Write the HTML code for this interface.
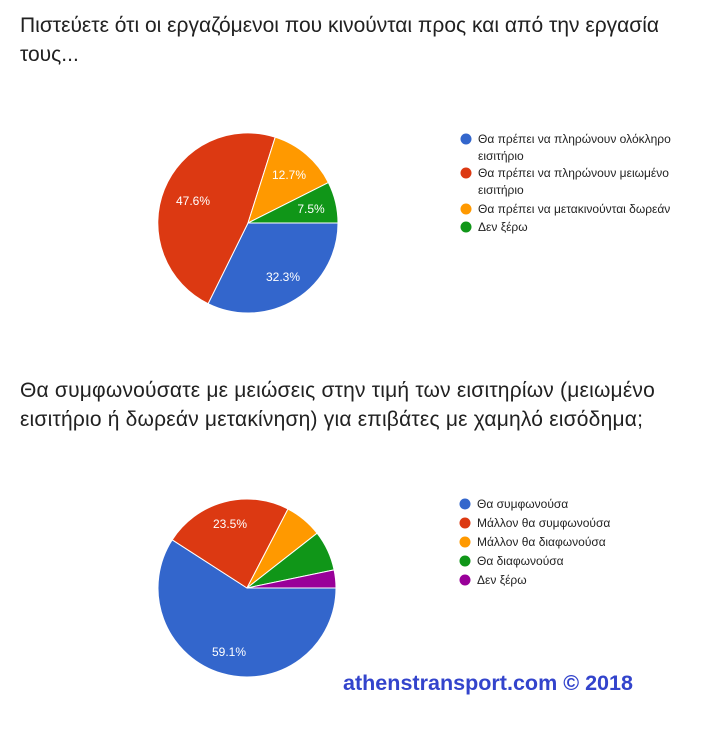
<!DOCTYPE html>
<html><head><meta charset="utf-8"><style>
html,body{margin:0;padding:0;background:#fff;}
body{width:703px;height:735px;position:relative;overflow:hidden;font-family:"Liberation Sans","DejaVu Sans",sans-serif;}
.t{position:absolute;left:20px;font-size:21px;letter-spacing:0.2px;color:#212121;line-height:29px;white-space:nowrap;}
svg{position:absolute;left:0;top:0;}
</style></head><body>
<div class="t" style="top:11px;letter-spacing:0">Πιστεύετε ότι οι εργαζόμενοι που κινούνται προς και από την εργασία<br>τους...</div>
<div class="t" style="top:376px">Θα συμφωνούσατε με μειώσεις στην τιμή των εισιτηρίων (μειωμένο<br>εισιτήριο ή δωρεάν μετακίνηση) για επιβάτες με χαμηλό εισόδημα;</div>
<svg width="703" height="735" xmlns="http://www.w3.org/2000/svg" font-family="Liberation Sans, sans-serif">
<g stroke="#fff" stroke-width="1">
<path d="M248,223 L338,223 A90,90 0 0 1 208.1,303.7 Z" fill="#3366cc"/>
<path d="M248,223 L208.1,303.7 A90,90 0 0 1 275.2,137.2 Z" fill="#dc3912"/>
<path d="M248,223 L275.2,137.2 A90,90 0 0 1 328.4,182.6 Z" fill="#ff9900"/>
<path d="M248,223 L328.4,182.6 A90,90 0 0 1 338,223 Z" fill="#109618"/>
<path d="M247,588 L336,588 A89,89 0 1 1 172.2,539.8 Z" fill="#3366cc"/>
<path d="M247,588 L172.2,539.8 A89,89 0 0 1 288,509 Z" fill="#dc3912"/>
<path d="M247,588 L288,509 A89,89 0 0 1 317.1,533.2 Z" fill="#ff9900"/>
<path d="M247,588 L317.1,533.2 A89,89 0 0 1 334.1,569.9 Z" fill="#109618"/>
<path d="M247,588 L334.1,569.9 A89,89 0 0 1 336,588 Z" fill="#990099"/>
</g>
<g fill="#fff" font-size="12" text-anchor="middle">
<text x="283" y="281">32.3%</text>
<text x="193" y="205">47.6%</text>
<text x="289" y="179">12.7%</text>
<text x="311" y="213">7.5%</text>
<text x="230" y="528">23.5%</text>
<text x="229" y="656">59.1%</text>
</g>
<g font-size="12" fill="#222">
<circle cx="466" cy="139" r="5.5" fill="#3366cc"/><text x="478" y="143">Θα πρέπει να πληρώνουν ολόκληρο</text><text x="478" y="160">εισιτήριο</text>
<circle cx="466" cy="173" r="5.5" fill="#dc3912"/><text x="478" y="177">Θα πρέπει να πληρώνουν μειωμένο</text><text x="478" y="194">εισιτήριο</text>
<circle cx="466" cy="209" r="5.5" fill="#ff9900"/><text x="478" y="213">Θα πρέπει να μετακινούνται δωρεάν</text>
<circle cx="466" cy="227" r="5.5" fill="#109618"/><text x="478" y="231">Δεν ξέρω</text>
<circle cx="465" cy="504" r="5.5" fill="#3366cc"/><text x="477" y="508">Θα συμφωνούσα</text>
<circle cx="465" cy="523" r="5.5" fill="#dc3912"/><text x="477" y="527">Μάλλον θα συμφωνούσα</text>
<circle cx="465" cy="542" r="5.5" fill="#ff9900"/><text x="477" y="546">Μάλλον θα διαφωνούσα</text>
<circle cx="465" cy="561" r="5.5" fill="#109618"/><text x="477" y="565">Θα διαφωνούσα</text>
<circle cx="465" cy="580" r="5.5" fill="#990099"/><text x="477" y="584">Δεν ξέρω</text>
</g>
<text x="343" y="690" font-size="21" font-weight="bold" fill="#3344cc" textLength="290" lengthAdjust="spacingAndGlyphs">athenstransport.com © 2018</text>
</svg>
</body></html>
